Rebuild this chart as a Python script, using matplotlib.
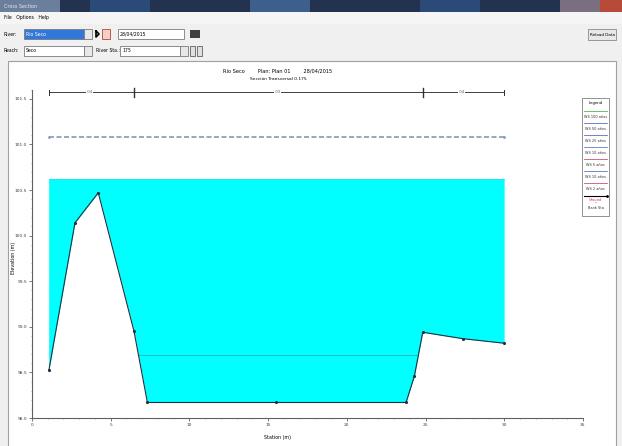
import numpy as np
import matplotlib
matplotlib.use('Agg')
import matplotlib.pyplot as plt
from matplotlib.patches import Rectangle

# ground points (station m, elevation m)
sta = [1.08, 2.73, 4.21, 6.48, 7.33, 15.5, 23.76, 24.29, 24.82, 27.36, 29.99]
elev = [98.53, 100.14, 100.47, 98.95, 98.17, 98.17, 98.17, 98.46, 98.94, 98.87, 98.82]
ws_max = 100.62      # water surface filled in cyan
eg_line = 101.08     # dashed line above
ws_low = 98.69       # low profile inside channel
n_sta = [1.08, 6.48, 24.82, 29.99]     # breaks on manning line
n_lbl = ['.04', '.03', '.04']
yticks = [98.0, 98.5, 99.0, 99.5, 100.0, 100.5, 101.0, 101.5]
xticks = [0, 5, 10, 15, 20, 25, 30, 35]
legend_items = [('WS 100 años', '#3aa03a'), ('WS 50 años', '#3050c8'),
                ('WS 25 años', '#3050c8'), ('WS 10 años', '#4060d0'),
                ('WS 5 años', '#c03050'), ('WS 10 años', '#3060c0'),
                ('WS 2 años', '#c03050')]

W, H = 622, 446
fig = plt.figure(figsize=(W / 100, H / 100), dpi=100)
fig.patch.set_facecolor('#f0f0f0')

# window chrome, drawn in pixel coords
bg = fig.add_axes([0, 0, 1, 1])
bg.set_xlim(0, W)
bg.set_ylim(H, 0)
bg.axis('off')

def box(x, y, w, h, fc, ec='none', lw=0.6):
    bg.add_patch(Rectangle((x, y), w, h, facecolor=fc, edgecolor=ec, lw=lw))

box(0, 0, W, 12, '#22324f')
for xx, c in [(0, '#6a7f9c'), (90, '#2c4a78'), (250, '#3c5f8e'), (420, '#2c4a78'), (560, '#7a6f80')]:
    box(xx, 0, 60, 12, c)
box(600, 0, 22, 12, '#b84a3a')
bg.text(4, 6, 'Cross Section', fontsize=3.5, color='#e8e8e8', va='center')
box(0, 12, W, 12, '#f5f5f5')
bg.text(4, 18, 'File   Options   Help', fontsize=3.3, va='center')

bg.text(4, 34, 'River:', fontsize=3.3, va='center')
box(24, 29, 60, 10, '#3278d8', '#7a7a7a')
bg.text(26, 34, 'Rio Seco', fontsize=3.3, va='center', color='white')
box(84, 29, 8, 10, '#e8e8e8', '#7a7a7a')
bg.plot([96, 99, 96, 96], [31, 34, 37, 31], color='black', lw=1.2)
box(102, 29, 8, 10, '#f0d0c8', '#c04030')
box(118, 29, 66, 10, 'white', '#7a7a7a')
bg.text(120, 34, '28/04/2015', fontsize=3.3, va='center')
box(190, 30, 10, 8, '#404040')
box(588, 29, 28, 11, '#e8e8e8', '#8a8a8a')
bg.text(602, 34.5, 'Reload Data', fontsize=3.0, va='center', ha='center')

bg.text(4, 51, 'Reach:', fontsize=3.3, va='center')
box(24, 46, 60, 10, 'white', '#7a7a7a')
bg.text(26, 51, 'Seco', fontsize=3.3, va='center')
box(84, 46, 8, 10, '#e8e8e8', '#7a7a7a')
bg.text(96, 51, 'River Sta.:', fontsize=3.3, va='center')
box(120, 46, 60, 10, 'white', '#7a7a7a')
bg.text(122, 51, '175', fontsize=3.3, va='center')
box(180, 46, 8, 10, '#e8e8e8', '#7a7a7a')
box(190, 46, 5, 10, '#e0e0e0', '#606060')
box(197, 46, 5, 10, '#e0e0e0', '#606060')

# white plot panel runs to the bottom edge like the screenshot
box(8, 61, 608, 390, 'white', '#a0a0a0', 0.8)
bg.text(278, 71, 'Rio Seco        Plan: Plan 01        28/04/2015', fontsize=3.6, ha='center', va='center')
bg.text(278, 79, 'Sección Transversal 0.175', fontsize=3.2, ha='center', va='center')
bg.text(278, 438, 'Station (m)', fontsize=3.4, ha='center', va='center')
bg.text(14, 258, 'Elevation (m)', fontsize=3.4, ha='center', va='center', rotation=90)

# legend box
box(582, 98, 27, 118, 'white', '#808080')
bg.text(595.5, 103, 'Legend', fontsize=2.8, ha='center', va='center')
ly = 111
for lbl, c in legend_items:
    bg.plot([584, 607], [ly, ly], color=c, lw=0.5)
    bg.text(595.5, ly + 6, lbl, fontsize=2.5, ha='center', va='center', color='#303030')
    ly += 12
bg.plot([584, 607], [ly + 1, ly + 1], color='black', lw=0.8, marker='.', markersize=2, markevery=[1])
bg.text(595.5, ly + 5, 'Ground', fontsize=2.5, ha='center', va='center', color='#c03050')
bg.text(595.5, ly + 9, '•', fontsize=2.5, ha='center', va='center', color='#c03050')
bg.text(595.5, ly + 13, 'Bank Sta', fontsize=2.5, ha='center', va='center', color='#303030')

# main cross section axes
x0, x1, yb = 32, 583, 418
yt = yb - 3.6 * 91.2
ax = fig.add_axes([x0 / W, 1 - yb / H, (x1 - x0) / W, (yb - yt) / H])
ax.patch.set_alpha(0)
ax.set_xlim(0, 35)
ax.set_ylim(98.0, 101.6)
for s in ['top', 'right']:
    ax.spines[s].set_visible(False)
for s in ['left', 'bottom']:
    ax.spines[s].set_color('#606060')
    ax.spines[s].set_linewidth(0.8)

xs = np.array(sta)
ys = np.array(elev)
ax.fill_between(xs, ys, ws_max, where=ys <= ws_max, color='#00ffff', lw=0, zorder=1)
ax.plot([xs[0], xs[0]], [ys[0], ws_max], color='#00ffff', lw=0.5)
ax.plot([xs[0], xs[-1]], [ws_max, ws_max], color='#00e8f0', lw=0.6, zorder=2)
ax.plot([xs[0], xs[-1]], [eg_line, eg_line], color='#7f9cbf', lw=1.2, ls=(0, (3, 1.5)), zorder=2)
ax.plot([xs[0], xs[-1]], [eg_line, eg_line], ls='none', marker='.', color='#7f9cbf', markersize=2)

# low profile meets the channel banks
xa = np.interp(ws_low, ys[3:5][::-1], xs[3:5][::-1])
xb = np.interp(ws_low, ys[6:9], xs[6:9])
ax.plot([xa, xb], [ws_low, ws_low], color='#28b0bc', lw=0.6, zorder=3)
ax.plot(xs, ys, color='#203040', lw=0.8, marker='.', markersize=2.5, zorder=4)

# manning n line
ytop = 101.57
ax.plot([n_sta[0], n_sta[-1]], [ytop, ytop], color='#404040', lw=0.7, clip_on=False)
for i, s in enumerate(n_sta):
    big = i in (1, 2)
    ax.plot([s, s], [ytop - (0.05 if big else 0.03), ytop + (0.05 if big else 0.03)],
            color='#303030', lw=1.0 if big else 0.7, clip_on=False)
for i, t in enumerate(n_lbl):
    xm = [3.68, 15.6, 27.3][i]
    ax.text(xm, ytop, t, fontsize=2.8, ha='center', va='center', color='#606060',
            bbox=dict(facecolor='white', edgecolor='none', pad=0.3), clip_on=False)

ax.set_xticks(xticks)
ax.set_yticks(yticks)
ax.set_xticklabels([str(v) for v in xticks])
ax.set_yticklabels(['%.1f' % v for v in yticks])
ax.minorticks_on()
ax.tick_params(labelsize=3.2, length=2, width=0.5, colors='#404040', pad=1.5)
ax.tick_params(which='minor', length=1, width=0.4, colors='#808080')

fig.savefig('out.png', dpi=100, facecolor=fig.get_facecolor())
